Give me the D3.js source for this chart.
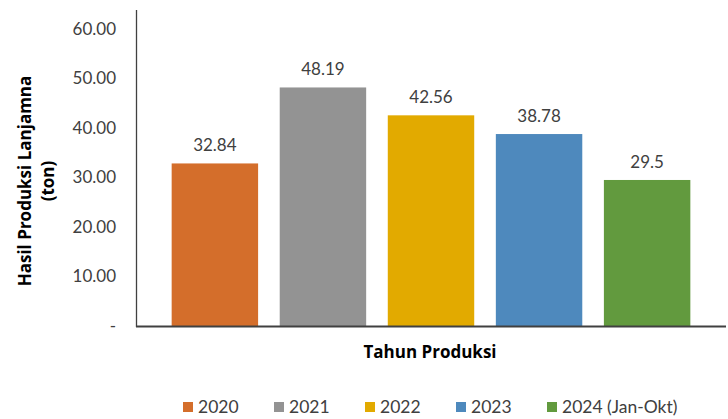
<!DOCTYPE html>
<html><head><meta charset="utf-8">
<script src="https://cdn.jsdelivr.net/npm/d3@7"></script>
<style>body{margin:0;background:#fff}svg{display:block}</style>
</head><body>
<script>
const categories = ["2020","2021","2022","2023","2024 (Jan-Okt)"];
const values = [32.84, 48.19, 42.56, 38.78, 29.5];
const valueLabels = ["32.84","48.19","42.56","38.78","29.5"];
const colors = ["#D46E2B","#939393","#E2AA00","#4E89BD","#629A3E"];
const yTicks = [0,10,20,30,40,50,60];

const W=728,H=419;
const font = "Lato, 'Open Sans', sans-serif";
const titleFont = "'Open Sans', sans-serif";
const svg = d3.select("body").append("svg").attr("width",W).attr("height",H);
const x = d3.scaleBand().domain(categories).range([136,726]).paddingInner(0.2).paddingOuter(0.33);
const y = d3.scaleLinear().domain([0,60]).range([326,29]);

// y tick labels
const yAxis = d3.axisLeft(y).tickValues(yTicks).tickSize(0).tickPadding(0)
  .tickFormat(d => d===0 ? "-" : d3.format(".2f")(d));
const ga = svg.append("g").attr("transform","translate(116,0)").call(yAxis);
ga.select(".domain").remove();
ga.selectAll("text").attr("font-family",font).attr("font-size",17).attr("fill","#404040");

// bars
svg.selectAll("rect.bar").data(values).enter().append("rect").attr("class","bar")
  .attr("x",(d,i)=>x(categories[i])).attr("width",x.bandwidth())
  .attr("y",d=>y(d)).attr("height",d=>y(0)-y(d)).attr("fill",(d,i)=>colors[i]);

// value labels
svg.selectAll("text.val").data(values).enter().append("text").attr("class","val")
  .attr("x",(d,i)=>x(categories[i])+x.bandwidth()/2).attr("y",d=>y(d)-12)
  .attr("text-anchor","middle").attr("font-family",font).attr("font-size",17).attr("fill","#404040")
  .text((d,i)=>valueLabels[i]);

// axes lines
svg.append("line").attr("x1",136.5).attr("x2",136.5).attr("y1",10).attr("y2",327).attr("stroke","#404040").attr("stroke-width",1.3);
svg.append("line").attr("x1",136).attr("x2",726).attr("y1",326.5).attr("y2",326.5).attr("stroke","#404040").attr("stroke-width",1.8);

// axis titles
svg.append("text").attr("x",430).attr("y",358).attr("text-anchor","middle")
  .attr("font-family",titleFont).attr("font-weight","bold").attr("font-size",17).attr("fill","#000").text("Tahun Produksi");
const yt = svg.append("text").attr("transform","translate(0,181) rotate(-90)")
  .attr("text-anchor","middle").attr("font-family",titleFont).attr("font-weight","bold").attr("font-size",17).attr("fill","#000");
yt.append("tspan").attr("x",0).attr("y",31).text("Hasil Produksi Lanjamna");
yt.append("tspan").attr("x",0).attr("y",54).text("(ton)");

// legend
const legX = [183,274,365,456,547];
const lg = svg.selectAll("g.leg").data(categories).enter().append("g").attr("class","leg")
  .attr("transform",(d,i)=>`translate(${legX[i]},402)`);
lg.append("rect").attr("width",10).attr("height",10).attr("fill",(d,i)=>colors[i]);
lg.append("text").attr("x",15).attr("y",11).attr("font-family",font).attr("font-size",17.5).attr("fill","#404040").text(d=>d);
</script>
</body></html>
